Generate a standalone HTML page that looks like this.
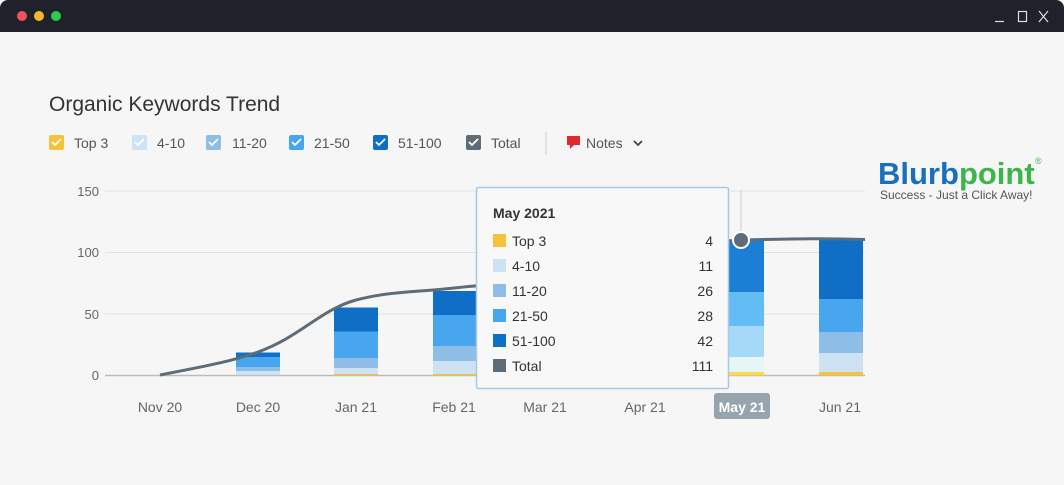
<!DOCTYPE html>
<html><head><meta charset="utf-8"><style>
body{margin:0;width:1064px;height:485px;overflow:hidden;background:#f6f6f6;font-family:"Liberation Sans",sans-serif}
.bar{position:absolute;left:0;top:0;width:1064px;height:32px;background:#1f222a;border-radius:8px 8px 0 0}
</style></head><body>
<div class="bar"></div>
<svg width="1064" height="485" style="position:absolute;left:0;top:0" font-family="Liberation Sans, sans-serif">
<circle cx="22" cy="16" r="5" fill="#f2525a"/><circle cx="39" cy="16" r="5" fill="#f6b82a"/><circle cx="56" cy="16" r="5" fill="#2ecb4e"/>
<line x1="995" y1="21.5" x2="1004" y2="21.5" stroke="#ddd" stroke-width="1.2"/>
<rect x="1018.5" y="11.5" width="8" height="10" fill="none" stroke="#ddd" stroke-width="1.2"/>
<path d="M1039 11 L1048 22 M1048 11 L1039 22" stroke="#ddd" stroke-width="1.2"/>
<text x="49" y="111" font-size="21" fill="#333">Organic Keywords Trend</text>
<g font-size="14" fill="#555">
<rect x="49" y="135" width="15" height="15" rx="2" fill="#f7c13a"/><text x="74" y="148">Top 3</text>
<rect x="132" y="135" width="15" height="15" rx="2" fill="#cde3f4"/><text x="157" y="148">4-10</text>
<rect x="206" y="135" width="15" height="15" rx="2" fill="#8ebde8"/><text x="232" y="148">11-20</text>
<rect x="289" y="135" width="15" height="15" rx="2" fill="#48a6ee"/><text x="314" y="148">21-50</text>
<rect x="373" y="135" width="15" height="15" rx="2" fill="#0f6fc6"/><text x="398" y="148">51-100</text>
<rect x="466" y="135" width="15" height="15" rx="2" fill="#5e6c77"/><text x="491" y="148">Total</text>
<g fill="none" stroke="#fff" stroke-width="1.8"><path d="M52 142l3 3 6-6M135 142l3 3 6-6M209 142l3 3 6-6M292 142l3 3 6-6M376 142l3 3 6-6M469 142l3 3 6-6"/></g>
<line x1="546" y1="132" x2="546" y2="155" stroke="#ccc"/>
<path d="M567 136h13v9h-6l-4 4v-4h-3z" fill="#e22a2a"/><text x="586" y="148">Notes</text>
<path d="M634 141l4 4 4-4" fill="none" stroke="#444" stroke-width="1.8"/>
</g>
<g stroke="#e0e3e4" stroke-width="1"><line x1="105" y1="191" x2="865" y2="191"/><line x1="105" y1="252.5" x2="865" y2="252.5"/><line x1="105" y1="314" x2="865" y2="314"/></g>
<line x1="105" y1="375.5" x2="865" y2="375.5" stroke="#bbb" stroke-width="1.5"/>
<g font-size="13" fill="#666" text-anchor="end"><text x="99" y="196">150</text><text x="99" y="257">100</text><text x="99" y="319">50</text><text x="99" y="380">0</text></g>
<g>
<rect x="236" y="371" width="44" height="4" fill="#cde3f4"/><rect x="236" y="367" width="44" height="4" fill="#8ebde8"/><rect x="236" y="357" width="44" height="10" fill="#48a6ee"/><rect x="236" y="352.5" width="44" height="4.5" fill="#0f6fc6"/>
<rect x="334" y="374" width="44" height="1.5" fill="#f7c13a"/><rect x="334" y="368" width="44" height="6" fill="#cde3f4"/><rect x="334" y="358" width="44" height="10" fill="#8ebde8"/><rect x="334" y="331.5" width="44" height="26.5" fill="#48a6ee"/><rect x="334" y="307.5" width="44" height="24" fill="#0f6fc6"/>
<rect x="433" y="374" width="44" height="1.5" fill="#f7c13a"/><rect x="433" y="361" width="44" height="13" fill="#cde3f4"/><rect x="433" y="346" width="44" height="15" fill="#8ebde8"/><rect x="433" y="315" width="44" height="31" fill="#48a6ee"/><rect x="433" y="291" width="44" height="24" fill="#0f6fc6"/>
<rect x="720" y="372" width="44" height="3.5" fill="#ffd74a"/><rect x="720" y="357" width="44" height="15" fill="#e6f6f8"/><rect x="720" y="326" width="44" height="31" fill="#a6d8f7"/><rect x="720" y="292" width="44" height="34" fill="#62bdf5"/><rect x="720" y="240" width="44" height="52" fill="#1c7fd6"/>
<rect x="819" y="372" width="44" height="3.5" fill="#f7c13a"/><rect x="819" y="353" width="44" height="19" fill="#cde3f4"/><rect x="819" y="332" width="44" height="21" fill="#8ebde8"/><rect x="819" y="299" width="44" height="33" fill="#48a6ee"/><rect x="819" y="240" width="44" height="59" fill="#0f6fc6"/>
</g>
<line x1="741" y1="190" x2="741" y2="240" stroke="#ccc"/>
<path d="M160 375 C200 367 230 362 258 352 C300 337 320 310 356 300 C390 291 420 292 454 288 C490 284 520 283 545 280 C590 275 620 270 645 262 C680 250 710 241 741 240 C790 239 820 238 865 239.5" fill="none" stroke="#5e6c77" stroke-width="3"/>
<circle cx="741" cy="240" r="8" fill="#5e6c77" stroke="#fff" stroke-width="2"/>
<g font-size="14" fill="#666" text-anchor="middle"><text x="160" y="412">Nov 20</text><text x="258" y="412">Dec 20</text><text x="356" y="412">Jan 21</text><text x="454" y="412">Feb 21</text><text x="545" y="412">Mar 21</text><text x="645" y="412">Apr 21</text><text x="840" y="412">Jun 21</text></g>
<rect x="714" y="393" width="56" height="26" rx="3" fill="#95a4ad"/><text x="742" y="412" font-size="14" fill="#fff" text-anchor="middle" font-weight="bold">May 21</text>
<rect x="476.5" y="187.5" width="252" height="201" rx="2" fill="#f8f8f8" stroke="#a8c8e4" stroke-width="1.5"/>
<g font-size="14" fill="#333">
<text x="493" y="218" font-weight="bold">May 2021</text>
<rect x="493" y="234" width="13" height="13" fill="#f7c13a"/><text x="512" y="246">Top 3</text><text x="713" y="246" text-anchor="end">4</text>
<rect x="493" y="259" width="13" height="13" fill="#cde3f4"/><text x="512" y="271">4-10</text><text x="713" y="271" text-anchor="end">11</text>
<rect x="493" y="284" width="13" height="13" fill="#8ebde8"/><text x="512" y="296">11-20</text><text x="713" y="296" text-anchor="end">26</text>
<rect x="493" y="309" width="13" height="13" fill="#48a6ee"/><text x="512" y="321">21-50</text><text x="713" y="321" text-anchor="end">28</text>
<rect x="493" y="334" width="13" height="13" fill="#0f6fc6"/><text x="512" y="346">51-100</text><text x="713" y="346" text-anchor="end">42</text>
<rect x="493" y="359" width="13" height="13" fill="#5e6c77"/><text x="512" y="371">Total</text><text x="713" y="371" text-anchor="end">111</text>
</g>
<text x="878" y="184" font-size="31" font-weight="bold" letter-spacing="0"><tspan fill="#1a6fbd">Blurb</tspan><tspan fill="#3db54a">point</tspan></text>
<text x="1035" y="164" font-size="9" fill="#3db54a">®</text>
<text x="880" y="199" font-size="12" fill="#555">Success - Just a Click Away!</text>
</svg>
</body></html>
